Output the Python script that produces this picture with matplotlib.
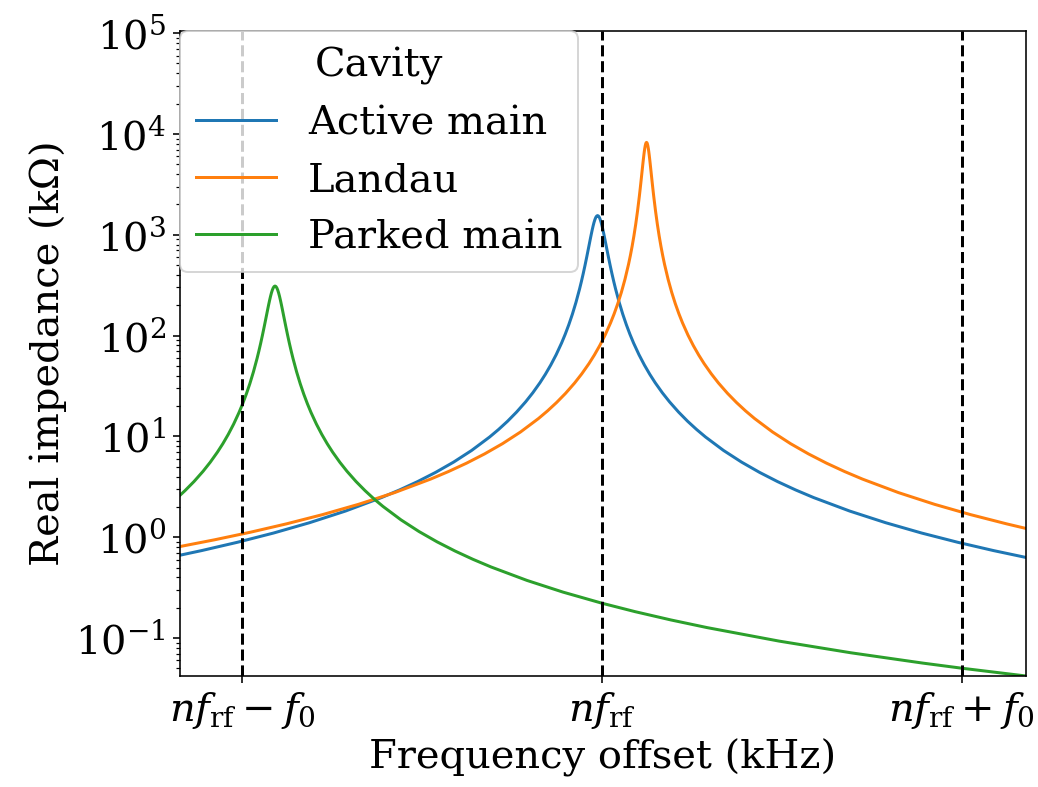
import matplotlib
matplotlib.use('Agg')
import matplotlib.pyplot as plt

plt.rcParams['font.family'] = 'serif'
plt.rcParams['font.serif'] = ['DejaVu Serif']
plt.rcParams['mathtext.fontset'] = 'dejavuserif'
plt.rcParams['font.size'] = 20

# frequency offset in units of f0, relative to n*f_rf; impedance in kOhm
active_f = [-1.18, -1.112, -1.012, -0.912, -0.812, -0.712, -0.612, -0.562, -0.512, -0.462,
            -0.412, -0.362, -0.312, -0.287, -0.262, -0.237, -0.212, -0.192, -0.172, -0.157,
            -0.142, -0.127, -0.112, -0.102, -0.092, -0.082, -0.072, -0.062, -0.057, -0.052,
            -0.047, -0.042, -0.037, -0.032, -0.0295, -0.027, -0.0245, -0.022, -0.0195, -0.017,
            -0.0145, -0.012, -0.0095, -0.007, -0.0045, -0.002, 0.0005, 0.003, 0.0055, 0.008,
            0.013, 0.018, 0.023, 0.028, 0.033, 0.038, 0.048, 0.058, 0.068, 0.078,
            0.088, 0.103, 0.118, 0.133, 0.148, 0.168, 0.188, 0.213, 0.238, 0.263,
            0.288, 0.338, 0.388, 0.438, 0.488, 0.538, 0.588, 0.688, 0.788, 0.888,
            0.988, 1.088, 1.18]
active_z = [0.654, 0.737, 0.892, 1.101, 1.394, 1.820, 2.476, 2.946, 3.563, 4.397,
            5.56, 7.254, 9.86, 11.72, 14.15, 17.44, 22.0, 27.07, 34.1, 41.33,
            51.1, 64.69, 84.4, 102.9, 128.0, 163.0, 213.8, 290.3, 343.2, 410.3,
            495.7, 604.9, 743.4, 914.8, 1012, 1115, 1219, 1321, 1412, 1486,
            1533, 1550, 1533, 1486, 1412, 1321, 1219, 1115, 1012, 914.8,
            743.4, 604.9, 495.7, 410.3, 343.2, 290.3, 213.8, 163.0, 128.0, 102.9,
            84.4, 64.69, 51.1, 41.33, 34.1, 27.07, 22.0, 17.44, 14.15, 11.72,
            9.86, 7.254, 5.56, 4.397, 3.563, 2.946, 2.476, 1.820, 1.394, 1.101,
            0.892, 0.737, 0.628]

landau_f = [-1.18, -1.076, -0.976, -0.876, -0.776, -0.676, -0.576, -0.476, -0.426, -0.376,
            -0.326, -0.276, -0.226, -0.176, -0.151, -0.126, -0.101, -0.076, -0.056, -0.036,
            -0.021, -0.006, 0.009, 0.024, 0.034, 0.044, 0.054, 0.064, 0.074, 0.079,
            0.084, 0.089, 0.094, 0.099, 0.104, 0.1065, 0.109, 0.1115, 0.114, 0.11525,
            0.1165, 0.11775, 0.119, 0.12025, 0.1215, 0.12275, 0.124, 0.12525, 0.1265, 0.12775,
            0.129, 0.13025, 0.1315, 0.13275, 0.134, 0.1365, 0.139, 0.1415, 0.144, 0.149,
            0.154, 0.159, 0.164, 0.169, 0.174, 0.184, 0.194, 0.204, 0.214, 0.224,
            0.239, 0.254, 0.269, 0.284, 0.304, 0.324, 0.349, 0.374, 0.399, 0.424,
            0.474, 0.524, 0.574, 0.624, 0.674, 0.724, 0.824, 0.924, 1.024, 1.124,
            1.18]
landau_z = [0.7985, 0.943, 1.122, 1.358, 1.676, 2.121, 2.770, 3.771, 4.487, 5.428,
            6.702, 8.479, 11.07, 15.06, 17.92, 21.67, 26.73, 33.8, 41.71, 52.7,
            64.1, 79.6, 101.4, 133.6, 164.3, 206.9, 268.1, 360.7, 509.6, 620.3,
            769.5, 977.3, 1276, 1720, 2405, 2884, 3485, 4233, 5132, 5631,
            6149, 6668, 7162, 7601, 7948, 8172, 8250, 8172, 7948, 7601,
            7162, 6668, 6149, 5631, 5132, 4233, 3485, 2884, 2405, 1720,
            1276, 977.3, 769.5, 620.3, 509.6, 360.7, 268.1, 206.9, 164.3, 133.6,
            101.4, 79.6, 64.1, 52.7, 41.71, 33.8, 26.73, 21.67, 17.92, 15.06,
            11.07, 8.479, 6.702, 5.428, 4.487, 3.771, 2.770, 2.121, 1.676, 1.358,
            1.2175]

parked_f = [-1.18, -1.158, -1.133, -1.108, -1.088, -1.068, -1.053, -1.038, -1.023, -1.008,
            -0.998, -0.988, -0.978, -0.968, -0.958, -0.953, -0.948, -0.943, -0.938, -0.933,
            -0.928, -0.9255, -0.923, -0.9205, -0.918, -0.9155, -0.913, -0.9105, -0.908, -0.9055,
            -0.903, -0.9005, -0.898, -0.8955, -0.893, -0.8905, -0.888, -0.883, -0.878, -0.873,
            -0.868, -0.863, -0.858, -0.848, -0.838, -0.828, -0.818, -0.808, -0.793, -0.778,
            -0.763, -0.748, -0.728, -0.708, -0.683, -0.658, -0.633, -0.608, -0.558, -0.508,
            -0.458, -0.408, -0.358, -0.308, -0.208, -0.108, 0.0, 0.092, 0.192, 0.292,
            0.492, 0.692, 0.892, 1.0, 1.18]
parked_z = [2.453, 2.900, 3.571, 4.506, 5.544, 6.984, 8.461, 10.46, 13.24, 17.27,
            21.05, 26.16, 33.32, 43.65, 59.2, 69.95, 83.5, 100.8, 122.8, 150.5,
            184.7, 204.1, 224.4, 245.1, 265.1, 283.0, 297.4, 306.8, 310, 306.8,
            297.4, 283.0, 265.1, 245.1, 224.4, 204.1, 184.7, 150.5, 122.8, 100.8,
            83.5, 69.95, 59.2, 43.65, 33.32, 26.16, 21.05, 17.27, 13.24, 10.46,
            8.461, 6.984, 5.544, 4.506, 3.571, 2.900, 2.399, 2.020, 1.486, 1.139,
            0.9006, 0.730, 0.6035, 0.5072, 0.3728, 0.2855, 0.2217, 0.1828, 0.1511, 0.1270,
            0.0933, 0.0714, 0.0564, 0.0502, 0.04195]

harmonics = [-1, 0, 1]
harmonic_labels = [r'$nf_{\rm rf} - f_0$', r'$nf_{\rm rf}$', r'$nf_{\rm rf} + f_0$']

fig = plt.figure(figsize=(1038/144, 787/144), dpi=144)
ax = fig.add_subplot(111)
fig.subplots_adjust(left=0.1734, right=0.9884, top=0.9606, bottom=0.141)

ax.plot(active_f, active_z, label='Active main')
ax.plot(landau_f, landau_z, label='Landau')
ax.plot(parked_f, parked_z, label='Parked main')

for h in harmonics:
    ax.axvline(h, color='k', linestyle='--')

ax.set_yscale('log')
ax.set_xlim(-1.172, 1.178)
ax.set_ylim(0.042, 1.05e5)
ax.set_xticks(harmonics)
ax.set_xticklabels(harmonic_labels)

ax.set_xlabel('Frequency offset (kHz)')
ax.set_ylabel('Real impedance (kΩ)')
ax.legend(title='Cavity', loc='upper left', borderaxespad=0)

fig.savefig('out.png', dpi=144)
